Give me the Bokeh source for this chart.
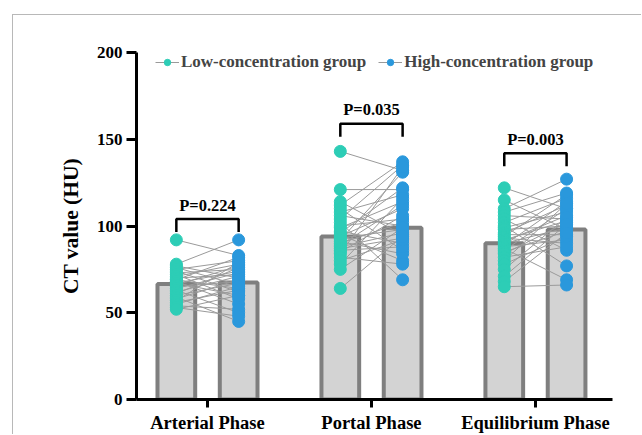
import numpy as np
from bokeh.plotting import figure
from bokeh.models import FixedTicker, Legend, LegendItem, Range1d
from bokeh.embed import file_html
from bokeh.resources import INLINE

# ---------------- data ----------------
phases = ["Arterial Phase", "Portal Phase", "Equilibrium Phase"]
series_names = ["Low-concentration group", "High-concentration group"]
y_ticks = [0, 50, 100, 150, 200]

low_means = [66.5, 94.0, 90.0]
high_means = [67.5, 99.0, 98.0]

p_labels = ["P=0.224", "P=0.035", "P=0.003"]
bracket_tops = [104, 159, 142]

arterial_low = [92, 78, 77, 76, 75, 74, 73, 72, 71, 70, 69, 69, 68, 67, 67,
                66, 65, 64, 63, 62, 61, 60, 59, 58, 57, 56, 55, 54, 53, 52]
arterial_high = [83, 92, 70, 66, 80, 62, 75, 58, 78, 72, 64, 82, 55, 74, 60,
                 77, 68, 73, 50, 71, 76, 67, 45, 69, 79, 63, 65, 52, 48, 60]

portal_low = [143, 121, 114, 112, 110, 108, 106, 104, 102, 100, 99, 97, 96, 95, 94,
              93, 92, 91, 90, 89, 88, 87, 86, 85, 84, 82, 80, 78, 75, 64]
portal_high = [132, 121, 95, 137, 86, 118, 100, 135, 69, 104, 114, 90, 122, 80, 110,
               98, 131, 84, 102, 112, 96, 93, 88, 106, 134, 78, 92, 116, 99, 94]

equil_low = [122, 115, 110, 108, 106, 104, 102, 100, 99, 98, 96, 95, 94, 93, 92,
             91, 90, 89, 88, 87, 86, 85, 84, 82, 80, 78, 75, 71, 68, 65]
equil_high = [110, 98, 127, 119, 104, 86, 116, 77, 108, 100, 112, 95, 118, 90, 103,
              106, 99, 114, 92, 69, 110, 97, 102, 88, 113, 94, 105, 101, 96, 66]

# ---------------- styling ----------------
TEAL = "#2DCDB6"
BLUE = "#2A98DC"
BAR_FILL = "#D3D3D3"
BAR_LINE = "#7F7F7F"
FONT = "Liberation Serif"
OFF = 0.19
BAR_W = 0.23
LEG = 7.5

pos = np.arange(1, len(phases) + 1, dtype=float)

p = figure(width=629, height=420, output_backend="svg", toolbar_location=None,
           x_range=Range1d(0.567, 3.47), y_range=Range1d(0, 200),
           min_border_left=123, min_border_right=30, min_border_top=37,
           min_border_bottom=34)
p.margin = (14, 0, 0, 12)
p.styles = {"border-top": "1px solid #B8B8B8", "border-left": "1px solid #B8B8B8"}
p.outline_line_color = None
p.xgrid.visible = False
p.ygrid.visible = False

# bars
p.vbar(x=pos - OFF, top=low_means, width=BAR_W, fill_color=BAR_FILL,
       line_color=BAR_LINE, line_width=4)
p.vbar(x=pos + OFF, top=high_means, width=BAR_W, fill_color=BAR_FILL,
       line_color=BAR_LINE, line_width=4)

# paired lines and points
lows = [arterial_low, portal_low, equil_low]
highs = [arterial_high, portal_high, equil_high]
x0, y0, x1, y1 = [], [], [], []
for c, lo, hi in zip(pos, lows, highs):
    for a, b in zip(lo, hi):
        x0.append(c - OFF); y0.append(a)
        x1.append(c + OFF); y1.append(b)
seg = p.segment(x0=x0, y0=y0, x1=x1, y1=y1, line_color="#9A9A9A", line_width=1)

lx = [c - OFF for c, lo in zip(pos, lows) for _ in lo]
ly = [v for lo in lows for v in lo]
hx = [c + OFF for c, hi in zip(pos, highs) for _ in hi]
hy = [v for hi in highs for v in hi]
sl = p.scatter(x=lx, y=ly, size=12, fill_color=TEAL, line_color=TEAL)
sh = p.scatter(x=hx, y=hy, size=12, fill_color=BLUE, line_color=BLUE)

# significance brackets
bxs, bys = [], []
for c, t in zip(pos, bracket_tops):
    bxs.append([c - OFF, c - OFF, c + OFF, c + OFF])
    bys.append([t - LEG, t, t, t - LEG])
p.multi_line(xs=bxs, ys=bys, line_color="black", line_width=2.5)
p.text(x=pos, y=bracket_tops, text=p_labels, text_align="center",
       text_baseline="alphabetic", y_offset=-14, text_font=FONT,
       text_font_style="bold", text_font_size="16.5px", text_color="black")

# axes
p.xaxis.ticker = FixedTicker(ticks=list(pos))
p.xaxis.major_label_overrides = {float(c): n for c, n in zip(pos, phases)}
p.yaxis.ticker = FixedTicker(ticks=y_ticks)
for ax in (p.xaxis[0], p.yaxis[0]):
    ax.axis_line_width = 3
    ax.axis_line_color = "black"
    ax.major_tick_line_width = 3
    ax.major_tick_line_color = "black"
    ax.major_tick_in = 0
    ax.minor_tick_line_color = None
    ax.major_label_text_font = FONT
    ax.major_label_text_font_style = "bold"
    ax.major_label_text_color = "black"
p.xaxis.major_tick_out = 8
p.xaxis.major_label_standoff = 5
p.xaxis.major_label_text_font_size = "18.5px"
p.yaxis.major_tick_out = 10
p.yaxis.major_label_standoff = 4
p.yaxis.major_label_text_font_size = "17px"
p.yaxis.axis_label = "CT value (HU)"
p.yaxis.axis_label_text_font = FONT
p.yaxis.axis_label_text_font_style = "bold"
p.yaxis.axis_label_text_font_size = "21.5px"
p.yaxis.axis_label_text_color = "black"
p.yaxis.axis_label_standoff = 11

legend = Legend(items=[LegendItem(label=series_names[0], renderers=[seg, sl]),
                       LegendItem(label=series_names[1], renderers=[seg, sh])],
                location=(19, 327), orientation="horizontal",
                padding=0, margin=0, spacing=12, glyph_width=24, glyph_height=16,
                label_height=16, label_standoff=2,
                label_text_font=FONT, label_text_font_style="bold",
                label_text_font_size="17px", border_line_color=None,
                background_fill_alpha=0)
p.add_layout(legend)

open("out.html", "w").write(file_html(p, INLINE))
